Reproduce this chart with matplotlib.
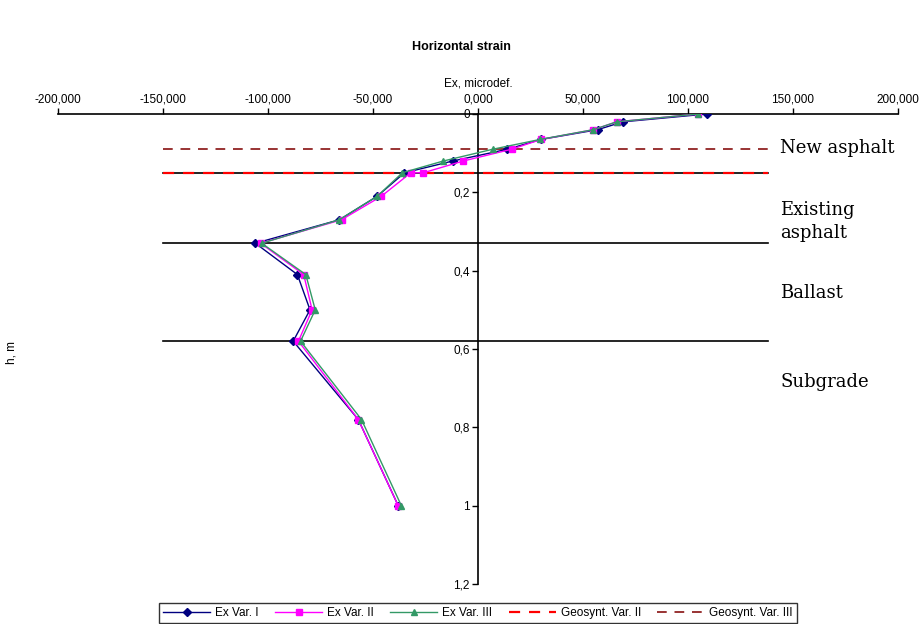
import numpy as np
import matplotlib.pyplot as plt

# Profundidades (m) y deformaciones horizontales (microdef.) por variante
h_var1 = [0, 0.02, 0.04, 0.065, 0.09, 0.12, 0.15, 0.21, 0.27, 0.33, 0.41, 0.50, 0.58, 0.78, 1.0]
ex_var1 = [109, 69, 57, 30, 14, -12, -35, -48, -66, -106, -86, -80, -88, -57, -38]

h_var2 = [0, 0.02, 0.04, 0.065, 0.09, 0.12, 0.15, 0.15, 0.21, 0.27, 0.33, 0.41, 0.50, 0.58, 0.78, 1.0]
ex_var2 = [105, 66, 55, 30, 16, -7, -26, -32, -46, -65, -103.5, -83, -79, -85.5, -57, -38]

h_var3 = [0, 0.02, 0.04, 0.065, 0.09, 0.12, 0.15, 0.21, 0.27, 0.33, 0.41, 0.50, 0.58, 0.78, 1.0]
ex_var3 = [105, 66, 55, 29.5, 7, -16.5, -36, -48, -66, -103, -82, -77.5, -84.5, -55.5, -36.5]

# Limites de capas y geosinteticos
capas = [0.15, 0.33, 0.58]
geo_var2 = 0.15
geo_var3 = 0.09
linea_x = [-150, 138]

capas_nombres = ["New asphalt", "Existing\nasphalt", "Ballast", "Subgrade"]
capas_pos = [0.087, 0.275, 0.457, 0.684]

x_ticks = [-200, -150, -100, -50, 0, 50, 100, 150, 200]
y_ticks = [0, 0.2, 0.4, 0.6, 0.8, 1.0, 1.2]
y_labels = ["0", "0,2", "0,4", "0,6", "0,8", "1", "1,2"]

plt.rcParams['font.family'] = ['Liberation Sans', 'DejaVu Sans']

fig = plt.figure(figsize=(9.23, 6.24), dpi=100)
ax = fig.add_axes([58 / 923, 1 - 584 / 624, 840 / 923, 470 / 624])

# Lineas horizontales de capas
for h in capas:
    ax.plot(linea_x, [h, h], color="black", lw=1.2, zorder=1)
ax.plot(linea_x, [geo_var2, geo_var2], color="#FF0000", lw=1.6, ls=(0, (5, 4)),
        label="Geosynt. Var. II", zorder=2)
ax.plot(linea_x, [geo_var3, geo_var3], color="#993333", lw=1.4, ls=(0, (5, 4)),
        label="Geosynt. Var. III", zorder=2)

# Series
ax.plot(ex_var1, h_var1, color="#000080", lw=1.0, marker="D", ms=4,
        label="Ex Var. I", zorder=3)
ax.plot(ex_var2, h_var2, color="#FF00FF", lw=1.0, marker="s", ms=5,
        label="Ex Var. II", zorder=4)
ax.plot(ex_var3, h_var3, color="#339966", lw=1.0, marker="^", ms=5,
        label="Ex Var. III", zorder=5)

# Nombres de capas
for nombre, pos in zip(capas_nombres, capas_pos):
    ax.text(144, pos, nombre, family="DejaVu Serif", fontsize=13, va="center",
            ha="left", linespacing=1.35)

ax.set_xlim(-200, 200)
ax.set_ylim(1.2, 0)

ax.spines['right'].set_visible(False)
ax.spines['bottom'].set_visible(False)
ax.spines['left'].set_position(('data', 0))
ax.spines['left'].set_linewidth(1.2)
ax.spines['top'].set_linewidth(1.2)

ax.xaxis.tick_top()
ax.set_xticks(x_ticks)
ax.set_xticklabels([f"{v:.3f}".replace('.', ',') for v in x_ticks])
ax.set_yticks(y_ticks)
ax.set_yticklabels(y_labels)
ax.tick_params(axis='both', direction='out', length=4, width=1, labelsize=8.5, pad=2)

ax.xaxis.set_label_position('top')
ax.set_xlabel("Ex, microdef.", fontsize=8.5, labelpad=5)

fig.text(12 / 923, 1 - 352 / 624, "h, m", rotation=90, fontsize=8.5, va="center", ha="center")
fig.text(461 / 923, 1 - 47 / 624, "Horizontal strain", fontsize=9, fontweight="bold",
         ha="center", va="center")

handles, labels = ax.get_legend_handles_labels()
orden = [2, 3, 4, 0, 1]
leg = fig.legend([handles[i] for i in orden], [labels[i] for i in orden],
                 loc="upper center", bbox_to_anchor=(478 / 923, 1 - 603 / 624),
                 ncol=5, fontsize=8.5, frameon=True, fancybox=False, edgecolor="black",
                 handlelength=4.0, columnspacing=1.4, handletextpad=0.4,
                 borderpad=0.35, borderaxespad=0)
leg.get_frame().set_linewidth(1.0)

fig.savefig("out.png", dpi=100)
